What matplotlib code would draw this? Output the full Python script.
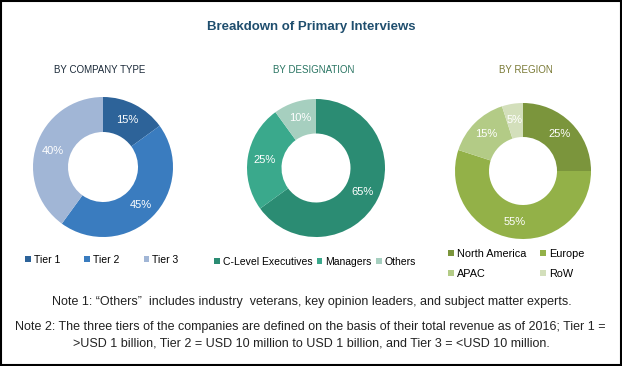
import matplotlib
matplotlib.use('Agg')
import matplotlib.pyplot as plt
from matplotlib.patches import Rectangle

W, H = 622, 366

# data
tier_labels = ['Tier 1', 'Tier 2', 'Tier 3']
tier_values = [15, 45, 40]
tier_colors = ['#2d6399', '#3a7cbf', '#a1b6d6']

desig_labels = ['C-Level Executives', 'Managers', 'Others']
desig_values = [65, 25, 10]
desig_colors = ['#2b8c73', '#3aa98c', '#a6cfbf']

region_labels = ['North America', 'Europe', 'APAC', 'RoW']
region_values = [25, 55, 15, 5]
region_colors = ['#7b953c', '#93b148', '#b3cb86', '#d3dfbb']

plt.rcParams['font.family'] = ['Liberation Sans', 'DejaVu Sans']

fig = plt.figure(figsize=(W / 100, H / 100), dpi=100)
fig.patch.set_facecolor('white')
fig.patches.append(Rectangle((0.0015, 0.002), 0.997, 0.995, transform=fig.transFigure,
                             fill=False, edgecolor='black', linewidth=1.5))


def px_axes(cx, cy, r):
    ax = fig.add_axes([(cx - r) / W, (H - cy - r) / H, 2 * r / W, 2 * r / H])
    ax.set_aspect('equal')
    ax.axis('off')
    return ax


def donut(ax, values, colors):
    wedges, texts, autotexts = ax.pie(values, colors=colors, startangle=90, counterclock=False,
                                      radius=1, autopct='%d%%', pctdistance=0.76,
                                      wedgeprops=dict(width=0.5, edgecolor='none'),
                                      textprops=dict(color='white', fontsize=8))
    ax.set_xlim(-1, 1)
    ax.set_ylim(-1, 1)
    return wedges


ax1 = px_axes(103, 167, 70)
w1 = donut(ax1, tier_values, tier_colors)
ax2 = px_axes(316, 168, 69)
w2 = donut(ax2, desig_values, desig_colors)
ax3 = px_axes(523, 171, 68)
w3 = donut(ax3, region_values, region_colors)

fig.text(311 / W, 1 - 27 / H, 'Breakdown of Primary Interviews', ha='center', va='center',
         fontsize=9.5, fontweight='bold', color='#1f4e6e')
fig.text(100 / W, 1 - 70 / H, 'BY COMPANY TYPE', ha='center', va='center', fontsize=7, color='#1c2b3a')
fig.text(314 / W, 1 - 70 / H, 'BY DESIGNATION', ha='center', va='center', fontsize=7, color='#2a7563')
fig.text(526 / W, 1 - 70 / H, 'BY REGION', ha='center', va='center', fontsize=7, color='#7a7a36')

leg_kw = dict(frameon=False, fontsize=7.5, handlelength=0.55, handleheight=0.55,
              handletextpad=0.3, borderpad=0, borderaxespad=0)
fig.legend(w1, tier_labels, loc='center', bbox_to_anchor=(102 / W, 1 - 260 / H), ncol=3,
           columnspacing=2.3, **leg_kw)
fig.legend(w2, desig_labels, loc='center', bbox_to_anchor=(315 / W, 1 - 262 / H), ncol=3,
           columnspacing=0.4, **leg_kw)
# column-major order so the rows read North America, Europe / APAC, RoW
order = [0, 2, 1, 3]
fig.legend([w3[i] for i in order], [region_labels[i] for i in order], loc='upper left',
           bbox_to_anchor=(448 / W, 1 - 249 / H), ncol=2, columnspacing=1.2,
           labelspacing=0.9, prop=dict(size=7.8), **{k: v for k, v in leg_kw.items() if k != 'fontsize'})

note_kw = dict(ha='center', va='center', fontsize=9, color='#222222')
fig.text(312 / W, 1 - 302 / H,
         'Note 1: \u201cOthers\u201d  includes industry  veterans, key opinion leaders, and subject matter experts.',
         **note_kw)
fig.text(310 / W, 1 - 327 / H,
         'Note 2: The three tiers of the companies are defined on the basis of their total revenue as of 2016; Tier 1 =',
         **note_kw)
fig.text(311 / W, 1 - 344 / H,
         '>USD 1 billion, Tier 2 = USD 10 million to USD 1 billion, and Tier 3 = <USD 10 million.',
         **note_kw)

fig.savefig('out.png', dpi=100)
